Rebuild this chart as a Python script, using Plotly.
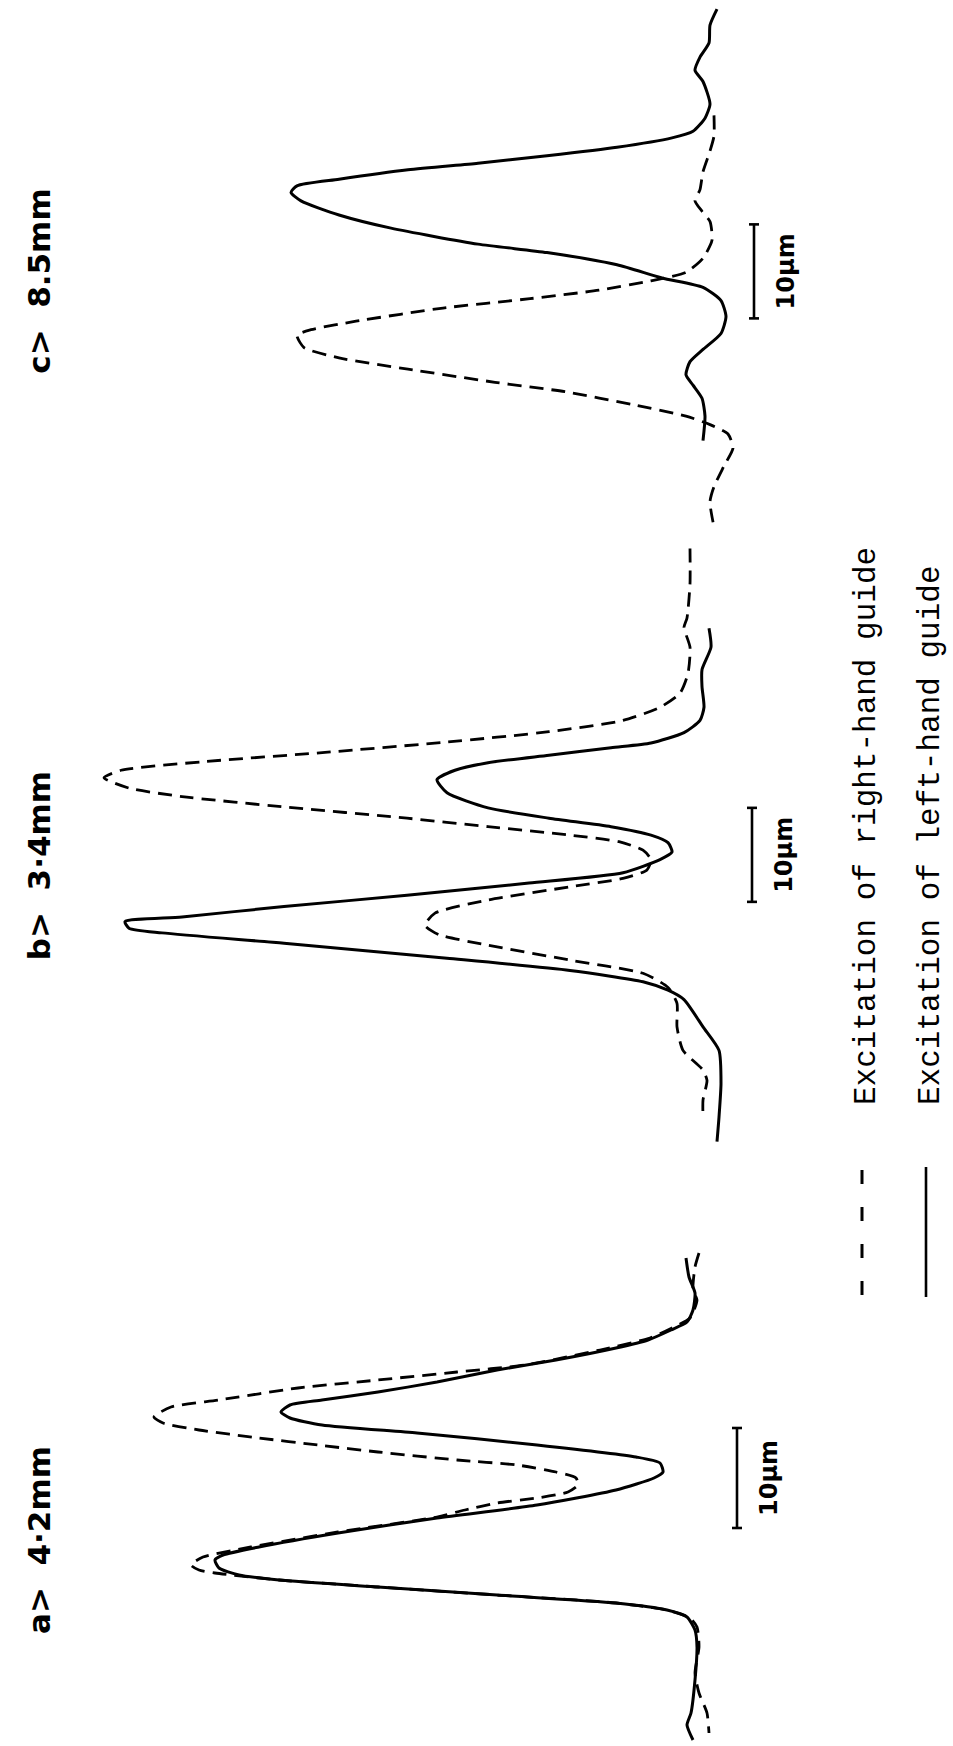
import plotly.graph_objects as go

# Intensity profiles across the guide pair (relative intensity, a.u.) versus
# transverse position (um), for three propagation lengths.
# "right" = excitation of right-hand guide (dashed), "left" = left-hand guide (solid).

# ---- a) 4.2 mm ----
a_left_pos = [48.8, 46.9, 45.3, 43.6, 42.4, 41.6, 40.6, 39.8, 38.6, 37.6, 36.4, 35.4, 34.6, 34.1,
              33.4, 32.8, 32.1, 31.3, 30.1, 28.9, 28.3, 27.4, 26.8, 25.6, 24.1, 22.8, 21.3, 19.9,
              19.1, 18.6, 17.8, 17.1, 16.6, 15.9, 15.1, 14.3, 13.6, 12.9, 11.6, 9.9, 6.6, 3.3, 2.1, 0.6]
a_left_int = [2.8, 2.2, 1.0, 1.4, 2.6, 5.8, 10.4, 16.8, 28.8, 40.6, 52.6, 64.4, 75.6, 82.0,
              83.8, 82.0, 75.6, 56.6, 32.6, 12.8, 8.0, 7.4, 9.2, 16.8, 32.6, 52.6, 72.4, 88.2,
              95.4, 97.0, 96.2, 92.2, 84.2, 64.4, 40.6, 16.8, 6.6, 2.6, 1.0, 0.6, 1.0, 1.8, 2.6, 1.4]

a_right_pos = [49.3, 47.9, 45.6, 44.6, 42.8, 41.8, 40.8, 39.6, 38.1, 37.4, 36.6, 35.8, 34.6, 33.9,
               32.9, 32.3, 31.6, 30.8, 30.1, 29.4, 28.6, 28.1, 27.4, 26.8, 26.1, 25.4, 24.8, 24.3,
               23.6, 22.9, 21.4, 19.9, 18.9, 18.1, 17.6, 17.3, 16.6, 15.9, 15.1, 14.3, 13.6, 12.8,
               11.9, 9.9, 7.3, 5.3, 3.3, 1.3]
a_right_int = [0.2, 1.0, 1.4, 0.6, 2.0, 5.6, 10.0, 20.0, 35.0, 48.6, 64.4, 80.4, 96.2, 105.8,
               109.2, 107.4, 100.2, 88.2, 76.4, 64.4, 48.6, 36.6, 28.8, 24.8, 24.4, 26.4, 32.6, 40.6,
               47.0, 52.6, 72.4, 89.8, 99.4, 101.8, 100.2, 97.0, 84.2, 64.4, 40.6, 16.8, 6.6, 2.0,
               0.6, 0.2, 1.0, 0.2, -1.4, -1.8]

# ---- b) 3.4 mm ----
b_left_pos = [55.5, 53.5, 51.1, 49.3, 47.1, 45.7, 44.4, 43.3, 42.8, 42.0, 41.2, 40.4, 39.4, 38.0,
              36.4, 35.3, 34.4, 33.5, 32.7, 31.7, 30.9, 29.5, 28.4, 27.1, 25.9, 24.8, 24.3, 23.6,
              23.1, 22.0, 20.4, 19.1, 17.9, 17.0, 16.0, 13.1, 10.6, 7.1, 3.5, 0.9]
b_left_int = [-1.8, -2.2, -0.4, -0.4, -0.8, 0.0, 3.2, 9.8, 17.8, 30.2, 42.4, 49.0, 52.6, 50.6,
              42.4, 30.2, 17.8, 9.8, 6.4, 5.6, 8.0, 15.4, 34.2, 58.6, 83.2, 103.6, 115.0, 114.2,
              107.6, 83.2, 50.6, 26.0, 11.4, 6.4, 3.2, -0.6, -3.8, -4.2, -3.8, -3.4]

b_right_pos = [64.0, 60.2, 56.6, 55.6, 53.5, 50.7, 48.6, 47.1, 45.7, 44.5, 43.4, 42.3, 41.3, 40.4,
               39.6, 38.5, 37.6, 36.5, 35.3, 34.4, 33.5, 32.8, 31.9, 30.9, 29.8, 28.9, 28.0, 26.6,
               25.2, 23.9, 22.9, 21.8, 20.2, 18.8, 17.3, 15.6, 13.1, 10.6, 8.5, 7.4, 5.3, 3.5]
b_right_int = [2.0, 2.0, 2.6, 3.2, 2.0, 2.4, 4.0, 8.0, 15.4, 30.2, 50.6, 75.0, 99.6, 115.8,
               119.2, 114.2, 103.6, 83.2, 58.6, 42.4, 26.0, 16.2, 11.4, 9.8, 10.6, 15.4, 26.0, 42.4,
               53.0, 55.0, 52.2, 42.4, 26.0, 11.4, 6.4, 4.6, 4.6, 3.4, -0.6, -1.4, -0.6, -0.6]

# ---- c) 8.5 mm ----
c_left_pos = [58.6, 56.9, 55.0, 53.5, 52.1, 50.9, 48.5, 47.0, 45.6, 44.9, 43.9, 43.0, 42.2, 41.5,
              40.5, 39.8, 39.1, 38.2, 36.7, 35.3, 33.6, 32.7, 31.4, 30.0, 29.0, 27.6, 25.9, 24.1,
              22.4, 21.1, 19.7, 18.6, 17.2, 15.3, 12.7]
c_left_int = [-3.4, -2.0, -1.8, 0.0, 1.0, -0.6, -2.0, -1.0, 1.4, 5.6, 16.6, 30.6, 44.4, 58.4,
              72.2, 80.6, 81.8, 79.8, 72.2, 61.8, 44.4, 30.6, 16.6, 7.6, -0.6, -4.2, -5.2, -4.2,
              -0.6, 2.0, 2.8, 1.4, -0.4, -1.0, -0.6]

c_right_pos = [47.3, 45.1, 43.5, 41.3, 39.4, 38.2, 37.1, 36.0, 34.0, 32.1, 30.6, 29.7, 28.7, 27.8,
               26.8, 25.4, 24.5, 23.9, 22.6, 21.5, 20.3, 18.9, 17.9, 16.5, 15.3, 14.4, 13.4, 11.9,
               10.0, 7.8, 6.2, 3.5]
c_right_int = [-2.8, -2.8, -2.0, -0.6, 0.0, 1.0, -0.4, -2.0, -2.4, -0.6, 2.8, 9.8, 20.2, 34.0,
               51.4, 68.8, 77.8, 80.6, 79.2, 72.2, 58.4, 41.0, 27.0, 13.2, 2.8, -2.0, -5.6, -6.6,
               -4.8, -2.8, -2.0, -2.8]

# Panel titles, scale bars (10 um) and legend texts
panel_titles = ["a>  4·2mm", "b>  3·4mm", "c>  8.5mm"]
title_pos = [20.6, 30.2, 29.6]
bar_start = [21.8, 26.4, 25.7]          # um, lower end of each 10 um bar
bar_int = [-7.4, -10.4, -10.8]         # a.u., where the bars sit beside the baseline
bar_len_um = 10
bar_label = "10µm"
legend_texts = ["Excitation of right-hand guide", "Excitation of left-hand guide"]

# axis scaling: intensity (a.u.) across the page, position (um) down the page
x_range = [140.0, -50.6]
y_ranges = [[0.0, 174.6], [-63.40, 122.34], [-126.17, 59.57]]

INK = "#000000"
fig = go.Figure()

panels = [
    ("y", a_left_pos, a_left_int, a_right_pos, a_right_int),
    ("y2", b_left_pos, b_left_int, b_right_pos, b_right_int),
    ("y3", c_left_pos, c_left_int, c_right_pos, c_right_int),
]

for i, (yref, lp, li, rp, ri) in enumerate(panels):
    fig.add_trace(go.Scatter(x=ri, y=rp, yaxis=yref, mode="lines",
                             line=dict(color=INK, width=2.8, dash="14px,8px",
                                       shape="spline", smoothing=0.6),
                             showlegend=False, hoverinfo="skip"))
    fig.add_trace(go.Scatter(x=li, y=lp, yaxis=yref, mode="lines",
                             line=dict(color=INK, width=3.0, shape="spline", smoothing=0.6),
                             showlegend=False, hoverinfo="skip"))
    # 10 um scale bar with end caps
    y0 = bar_start[i]
    y1 = y0 + bar_len_um
    xb = bar_int[i]
    cap = 1.0
    fig.add_trace(go.Scatter(x=[xb, xb, None, xb - cap, xb + cap, None, xb - cap, xb + cap],
                             y=[y0, y1, None, y0, y0, None, y1, y1],
                             yaxis=yref, mode="lines", line=dict(color=INK, width=2.6),
                             showlegend=False, hoverinfo="skip"))
    fig.add_annotation(x=xb - 6.4, y=(y0 + y1) / 2, xref="x", yref=yref, text=f"<b>{bar_label}</b>",
                       textangle=-90, showarrow=False, xanchor="center", yanchor="middle",
                       font=dict(family="DejaVu Sans", size=24, color=INK))
    fig.add_annotation(x=132.2, y=title_pos[i], xref="x", yref=yref, text=f"<b>{panel_titles[i]}</b>",
                       textangle=-90, showarrow=False, xanchor="center", yanchor="middle",
                       font=dict(family="DejaVu Sans", size=31, color=INK))

# legend: sample lines and rotated texts
W, H = 953.0, 1746.0
leg_x = [862.0, 926.0]
fig.add_shape(type="line", xref="paper", yref="paper",
              x0=leg_x[0] / W, x1=leg_x[0] / W, y0=1 - 1170 / H, y1=1 - 1296 / H,
              line=dict(color=INK, width=3, dash="14px,23px"))
fig.add_shape(type="line", xref="paper", yref="paper",
              x0=leg_x[1] / W, x1=leg_x[1] / W, y0=1 - 1167 / H, y1=1 - 1297 / H,
              line=dict(color=INK, width=2.6))
for k, txt in enumerate(legend_texts):
    fig.add_annotation(x=(leg_x[k] + 4) / W, y=1 - 1107 / H, xref="paper", yref="paper",
                       text=txt, textangle=-90, showarrow=False,
                       xanchor="center", yanchor="bottom",
                       font=dict(family="Liberation Mono", size=31, color=INK))

axis_off = dict(visible=False, showgrid=False, zeroline=False, fixedrange=True)
fig.update_layout(
    width=953, height=1746,
    margin=dict(l=0, r=0, t=0, b=0),
    paper_bgcolor="white", plot_bgcolor="white",
    xaxis=dict(range=x_range, domain=[0, 1], **axis_off),
    yaxis=dict(range=y_ranges[0], domain=[0, 1], **axis_off),
    yaxis2=dict(range=y_ranges[1], overlaying="y", **axis_off),
    yaxis3=dict(range=y_ranges[2], overlaying="y", **axis_off),
    showlegend=False,
)

fig.write_html("out.html")
